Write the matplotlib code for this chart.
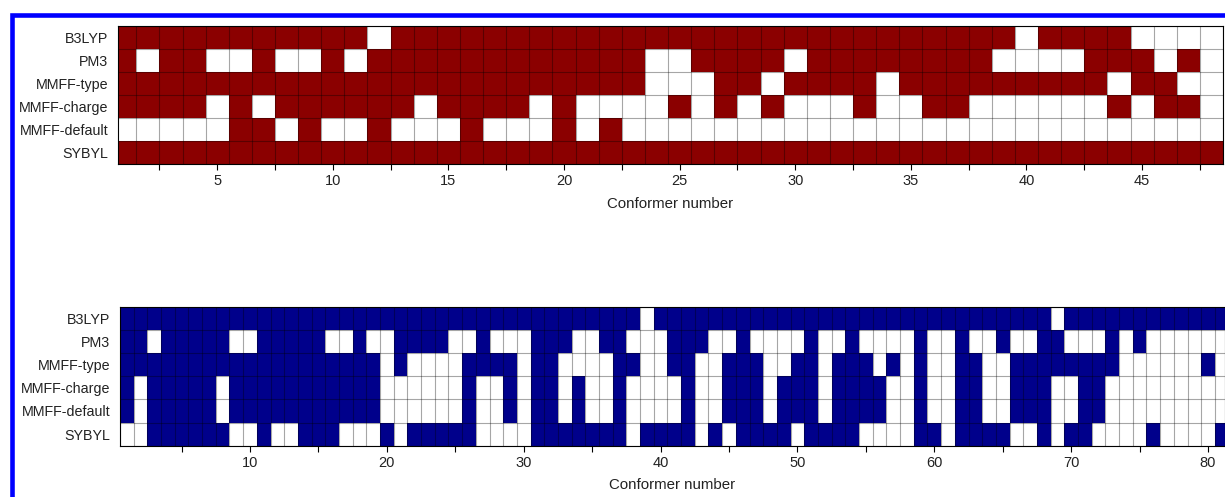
import matplotlib
matplotlib.use("Agg")
import matplotlib.pyplot as plt
from matplotlib.colors import ListedColormap
from matplotlib.patches import Rectangle
import numpy as np

plt.rcParams["font.family"] = ["Liberation Sans", "DejaVu Sans"]

methods = ["B3LYP", "PM3", "MMFF-type", "MMFF-charge", "MMFF-default", "SYBYL"]

# conformer numbers drawn as white (no match); every other cell is filled
top_n = 48
top_b3lyp = [12, 40, 45, 46, 47, 48]
top_pm3 = [2, 5, 6, 8, 9, 11, 24, 25, 30, 39, 40, 41, 42, 46, 48]
top_type = [24, 25, 26, 29, 34, 44, 47, 48]
top_charge = [5, 7, 14, 19, 21, 22, 23, 24, 26, 28, 30, 31, 32, 34, 35,
              38, 39, 40, 41, 42, 43, 45, 48]
top_default = [1, 2, 3, 4, 5, 8, 10, 11, 13, 14, 15, 17, 18, 19, 21] + list(range(23, 49))
top_sybyl = []

bot_n = 81
bot_b3lyp = [39, 69]
bot_pm3 = [3, 9, 10, 16, 17, 19, 20, 25, 26, 28, 29, 30, 34, 35, 38, 39, 40,
           44, 45, 47, 48, 49, 50, 52, 53, 55, 56, 57, 58, 60, 61, 63, 64,
           66, 67, 70, 71, 72, 74, 76, 77, 78, 79, 80, 81]
bot_type = [20, 22, 23, 24, 25, 30, 33, 34, 35, 36, 39, 40, 43, 44, 48, 49,
            52, 56, 58, 60, 61, 64, 65, 74, 75, 76, 77, 78, 79, 81]
bot_charge = [2, 8, 20, 21, 22, 23, 24, 25, 27, 28, 30, 33, 35, 36, 38, 39,
              40, 41, 43, 44, 48, 52, 57, 58, 60, 61, 64, 65, 69, 70,
              73, 74, 75, 76, 77, 78, 79, 80, 81]
bot_default = [2, 8, 20, 21, 22, 23, 24, 25, 27, 28, 30, 33, 35, 36, 38, 39,
               40, 41, 43, 44, 48, 52, 57, 58, 60, 61, 64, 65, 69, 70,
               73, 74, 75, 76, 77, 78, 79, 80, 81]
bot_sybyl = [1, 2, 9, 10, 12, 13, 17, 18, 19, 21, 27, 28, 29, 30, 38, 43, 45,
             50, 55, 56, 57, 58, 61, 66, 67, 69, 72, 73, 74, 75, 77, 78, 79, 80]

TXT = "#222222"


def grid(n, whites):
    m = np.ones((len(whites), n))
    for i, w in enumerate(whites):
        m[i, np.array(w, dtype=int) - 1] = 0
    return m


def panel(ax, mat, color, xlim, ticks, label_every):
    nrow, n = mat.shape
    xe = np.arange(n + 1) + 0.5
    ye = np.arange(nrow + 1) - 0.5
    ax.pcolormesh(xe, ye, mat, cmap=ListedColormap(["white", color]),
                  vmin=0, vmax=1)
    ax.vlines(xe, -0.5, nrow - 0.5, color="k", alpha=0.35, lw=0.8)
    ax.hlines(ye, 0.5, n + 0.5, color="k", alpha=0.35, lw=0.8)
    ax.set_xlim(*xlim)
    ax.set_ylim(nrow - 0.5, -0.5)
    ax.set_yticks(range(nrow), methods)
    ax.tick_params(axis="y", length=0, pad=7, labelsize=10.3, labelcolor=TXT)
    ax.set_xticks(ticks)
    ax.set_xticklabels([str(int(t)) if t % label_every == 0 else "" for t in ticks])
    ax.tick_params(axis="x", length=4, labelsize=10.5, labelcolor=TXT)
    ax.set_xlabel("Conformer number", fontsize=10.8, color=TXT, labelpad=6)
    for s in ax.spines.values():
        s.set_linewidth(0.8)


fig = plt.figure(figsize=(12.25, 4.97), dpi=100)
W, H = 1225, 497

ax1 = fig.add_axes([118 / W, 1 - 164 / H, 1105 / W, 138 / H])
panel(ax1, grid(top_n, [top_b3lyp, top_pm3, top_type, top_charge, top_default, top_sybyl]),
      "#8b0000", (0.71, 48.5), np.arange(2.5, 48, 2.5), 5)

ax2 = fig.add_axes([120 / W, 1 - 445.7 / H, 1105 / W, 139 / H])
panel(ax2, grid(bot_n, [bot_b3lyp, bot_pm3, bot_type, bot_charge, bot_default, bot_sybyl]),
      "#00008b", (0.5, 81.24), np.arange(5, 81, 5), 10)

fig.patches.append(Rectangle((11.5 / W, -0.5), 2, 1 - 14.5 / H + 0.5,
                             transform=fig.transFigure, fill=False,
                             edgecolor="#0000ff", lw=3.3))

fig.savefig("out.png", dpi=100)
